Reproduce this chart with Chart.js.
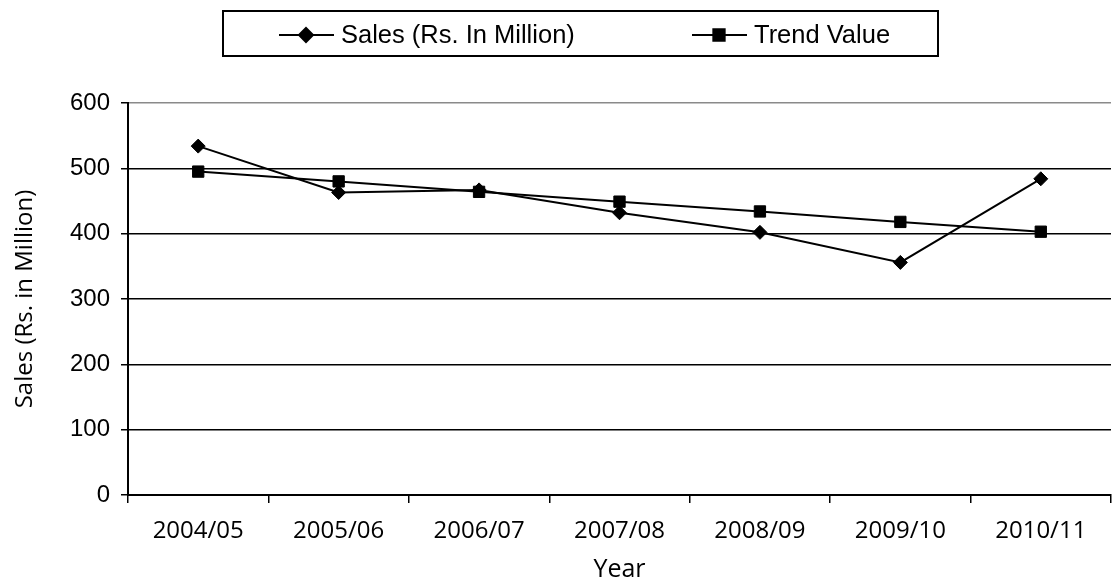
<!DOCTYPE html>
<html>
<head>
<meta charset="utf-8">
<title>Sales and Trend Value</title>
<script src="https://cdn.jsdelivr.net/npm/chart.js@4.4.1/dist/chart.umd.min.js"></script>
<style>
  html, body { margin: 0; padding: 0; background: #fff; }
  canvas { display: block; }
</style>
</head>
<body>
<canvas id="salesChart" width="1112" height="582"></canvas>
<script>
// financial years on the x axis
const years = ['2004/05', '2005/06', '2006/07', '2007/08', '2008/09', '2009/10', '2010/11'];
// sales in Rs. million
const salesValues = [534, 463, 467, 432, 402, 356, 484];
// fitted straight-line trend
const trendValues = [495, 480, 464, 449, 434, 418, 403];
const yMin = 0;
const yMax = 600;
const yStep = 100;

const tickFont = { family: 'Liberation Sans, Arial, sans-serif', size: 24 };
const labelFont = { family: 'Open Sans, sans-serif', size: 24 };

// boxed legend: line + marker + label for each series
const boxedLegend = {
  id: 'boxedLegend',
  afterDraw(chart) {
    const ctx = chart.ctx;
    const itemX = [279, 692];
    const midY = 35;
    ctx.save();
    ctx.strokeStyle = '#000';
    ctx.lineWidth = 2;
    ctx.strokeRect(223, 11, 715, 45);
    chart.data.datasets.forEach((ds, i) => {
      const x0 = itemX[i];
      ctx.strokeStyle = '#000';
      ctx.lineWidth = 2;
      ctx.beginPath();
      ctx.moveTo(x0, midY);
      ctx.lineTo(x0 + 55, midY);
      ctx.stroke();
      ctx.fillStyle = '#000';
      ctx.strokeStyle = '#000';
      Chart.helpers.drawPoint(ctx, {
        pointStyle: ds.pointStyle,
        radius: ds.pointRadius,
        borderWidth: 1,
        rotation: 0
      }, x0 + 27, midY);
      ctx.fillStyle = '#000';
      ctx.font = '25.5px "Liberation Sans", Arial, sans-serif';
      ctx.textBaseline = 'alphabetic';
      ctx.textAlign = 'left';
      ctx.fillText(ds.label, x0 + 62, midY + 8);
    });
    ctx.restore();
  }
};

new Chart(document.getElementById('salesChart'), {
  type: 'line',
  data: {
    labels: years,
    datasets: [
      {
        label: 'Sales (Rs. In Million)',
        data: salesValues,
        borderColor: '#000',
        backgroundColor: '#000',
        borderWidth: 2,
        pointStyle: 'rectRot',
        pointRadius: 7,
        pointBorderWidth: 1,
        tension: 0
      },
      {
        label: 'Trend Value',
        data: trendValues,
        borderColor: '#000',
        backgroundColor: '#000',
        borderWidth: 2,
        pointStyle: 'rect',
        pointRadius: 8,
        pointBorderWidth: 1,
        tension: 0
      }
    ]
  },
  options: {
    responsive: false,
    animation: false,
    layout: { autoPadding: false, padding: { top: 103, right: 1, left: 0, bottom: 0 } },
    plugins: {
      legend: { display: false },
      tooltip: { enabled: false }
    },
    scales: {
      x: {
        offset: true,
        grid: {
          offset: true,
          drawOnChartArea: false,
          drawTicks: true,
          tickLength: 8,
          color: '#000',
          lineWidth: 1.5
        },
        border: { color: '#000', width: 2 },
        ticks: { color: '#000', font: labelFont, padding: 14, maxRotation: 0, autoSkip: false },
        title: {
          display: true,
          text: 'Year',
          color: '#000',
          font: { family: 'Open Sans, sans-serif', size: 25 },
          padding: { top: 0, bottom: -3 }
        },
        afterFit(scale) {
          scale.height = 87;
          scale.paddingLeft = 0;
          scale.paddingRight = 0;
        }
      },
      y: {
        min: yMin,
        max: yMax,
        ticks: { stepSize: yStep, color: '#000', font: tickFont, padding: 11 },
        grid: {
          color: (c) => (c.tick && c.tick.value === yMax ? '#8a8a8a' : '#000'),
          tickColor: '#000',
          lineWidth: 1.5,
          tickLength: 7
        },
        border: { color: '#000', width: 2 },
        title: {
          display: true,
          text: 'Sales (Rs. in Million)',
          color: '#000',
          font: labelFont,
          padding: { top: 11, bottom: 0 }
        },
        afterFit(scale) { scale.width = 128; }
      }
    }
  },
  plugins: [boxedLegend]
});
</script>
</body>
</html>
